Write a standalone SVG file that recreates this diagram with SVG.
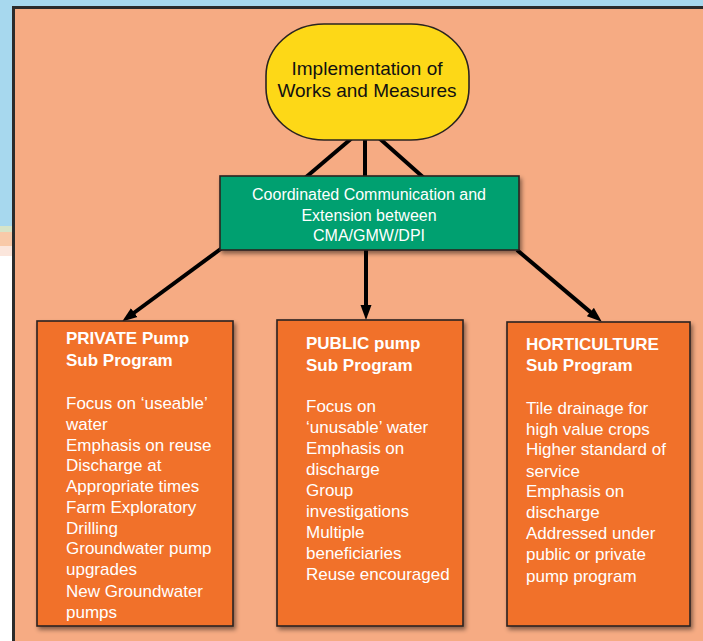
<svg xmlns="http://www.w3.org/2000/svg" width="703" height="641" viewBox="0 0 703 641">
  <defs>
    <style>
      .node { stroke: #2a2420; stroke-width: 1.6; }
      .box { fill: #F1712B; }
      .title { font-family: "Liberation Sans", Arial, sans-serif; font-size: 17px; font-weight: bold; fill: #ffffff; }
      .body { font-family: "Liberation Sans", Arial, sans-serif; font-size: 17px; fill: #ffffff; }
      .conn { stroke: #000000; stroke-width: 4; fill: none; }
      .arrow { stroke: #000000; stroke-width: 4; fill: none; marker-end: url(#ah); }
    </style>
    <marker id="ah" markerUnits="userSpaceOnUse" markerWidth="16" markerHeight="12" refX="4" refY="6" orient="auto">
      <path d="M0,0.5 L15,6 L0,11.5 z" fill="#000000"/>
    </marker>
    <filter id="sh" x="-10%" y="-10%" width="130%" height="130%">
      <feDropShadow dx="2" dy="3" stdDeviation="2" flood-color="#000000" flood-opacity="0.45"/>
    </filter>
  </defs>

  <!-- outside background -->
  <rect x="0" y="0" width="703" height="641" fill="#ffffff"/>
  <rect x="0" y="0" width="703" height="10" fill="#A7D8EE"/>
  <rect x="0" y="0" width="16" height="226" fill="#A7D8EE"/>
  <rect x="0" y="226" width="16" height="6" fill="#D6E4C8"/>
  <rect x="0" y="232" width="16" height="14" fill="#F8C9A8"/>
  <rect x="0" y="246" width="16" height="10" fill="#FBE6DC"/>

  <!-- panel -->
  <rect x="13.5" y="7.5" width="700" height="640" fill="#F6AB83" stroke="#2b2b2b" stroke-width="3"/>

  <!-- connectors -->
  <g id="connectors">
    <line class="conn" x1="352" y1="138" x2="305" y2="178"/>
    <line class="conn" x1="365" y1="138" x2="365" y2="178"/>
    <line class="conn" x1="379" y1="138" x2="424" y2="178"/>
    <line class="arrow" x1="222" y1="248" x2="131" y2="315"/>
    <line class="arrow" x1="366" y1="250" x2="366" y2="309"/>
    <line class="arrow" x1="517" y1="250" x2="593.4" y2="314.6"/>
  </g>

  <!-- top node -->
  <g id="implementation">
    <rect class="node" x="266" y="24" width="203" height="116" rx="58" ry="52" fill="#FDD817"/>
    <text x="367" y="75" text-anchor="middle" font-family="'Liberation Sans', Arial, sans-serif" font-size="19" fill="#111111">Implementation of</text>
    <text x="367" y="97" text-anchor="middle" font-family="'Liberation Sans', Arial, sans-serif" font-size="19" fill="#111111">Works and Measures</text>
  </g>

  <!-- coordination node -->
  <g id="coordination">
    <rect class="node" x="220" y="176" width="299" height="74" fill="#00A06F" filter="url(#sh)"/>
    <text x="369" y="200" text-anchor="middle" font-family="'Liberation Sans', Arial, sans-serif" font-size="16" fill="#ffffff">Coordinated Communication and</text>
    <text x="369" y="221" text-anchor="middle" font-family="'Liberation Sans', Arial, sans-serif" font-size="16" fill="#ffffff">Extension between</text>
    <text x="369" y="241" text-anchor="middle" font-family="'Liberation Sans', Arial, sans-serif" font-size="16" fill="#ffffff">CMA/GMW/DPI</text>
  </g>

  <!-- private -->
  <g id="private">
    <rect class="node box" x="37" y="321" width="196" height="305" filter="url(#sh)"/>
    <text class="title" x="66" y="344">PRIVATE Pump</text>
    <text class="title" x="66" y="366">Sub Program</text>
    <text class="body" x="66" y="409">Focus on ‘useable’</text>
    <text class="body" x="66" y="430">water</text>
    <text class="body" x="66" y="451">Emphasis on reuse</text>
    <text class="body" x="66" y="471">Discharge at</text>
    <text class="body" x="66" y="492">Appropriate times</text>
    <text class="body" x="66" y="513">Farm Exploratory</text>
    <text class="body" x="66" y="534">Drilling</text>
    <text class="body" x="66" y="554">Groundwater pump</text>
    <text class="body" x="66" y="575">upgrades</text>
    <text class="body" x="66" y="597">New Groundwater</text>
    <text class="body" x="66" y="618">pumps</text>
  </g>

  <!-- public -->
  <g id="public">
    <rect class="node box" x="277" y="320" width="186" height="306" filter="url(#sh)"/>
    <text class="title" x="306" y="349">PUBLIC pump</text>
    <text class="title" x="306" y="371">Sub Program</text>
    <text class="body" x="306" y="412">Focus on</text>
    <text class="body" x="306" y="433">‘unusable’ water</text>
    <text class="body" x="306" y="454">Emphasis on</text>
    <text class="body" x="306" y="475">discharge</text>
    <text class="body" x="306" y="496">Group</text>
    <text class="body" x="306" y="517">investigations</text>
    <text class="body" x="306" y="538">Multiple</text>
    <text class="body" x="306" y="559">beneficiaries</text>
    <text class="body" x="306" y="580">Reuse encouraged</text>
  </g>

  <!-- horticulture -->
  <g id="horticulture">
    <rect class="node box" x="507" y="322" width="183" height="304" filter="url(#sh)"/>
    <text class="title" x="526" y="350">HORTICULTURE</text>
    <text class="title" x="526" y="371">Sub Program</text>
    <text class="body" x="526" y="414">Tile drainage for</text>
    <text class="body" x="526" y="435">high value crops</text>
    <text class="body" x="526" y="455">Higher standard of</text>
    <text class="body" x="526" y="477">service</text>
    <text class="body" x="526" y="497">Emphasis on</text>
    <text class="body" x="526" y="518">discharge</text>
    <text class="body" x="526" y="539">Addressed under</text>
    <text class="body" x="526" y="560">public or private</text>
    <text class="body" x="526" y="582">pump program</text>
  </g>
</svg>
